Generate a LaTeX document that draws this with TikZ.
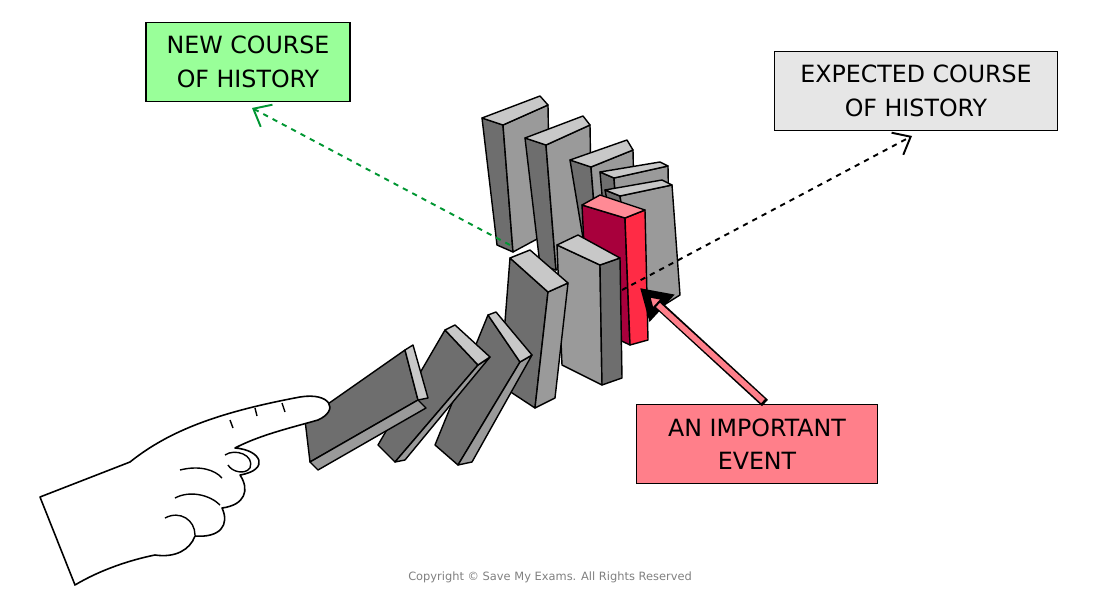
\documentclass[tikz,border=0pt]{standalone}
\usepackage{fontspec}
\setmainfont{DejaVu Sans}
\usetikzlibrary{arrows.meta}
\definecolor{dside}{HTML}{6E6E6E}
\definecolor{dfront}{HTML}{9A9A9A}
\definecolor{dtop}{HTML}{C8C8C8}
\definecolor{rdark}{HTML}{A8003C}
\definecolor{rside}{HTML}{FF2B45}
\definecolor{rtop}{HTML}{FF8A95}
\tikzset{
  face/.style={draw=black, line width=0.8pt, line join=round},
  label box/.style={draw=black, line width=0.8pt, minimum width=4.08cm, minimum height=1.58cm,
    align=center, font=\fontsize{13.5}{19}\selectfont},
  course/.style={dashed, line width=1.1pt, -{Straight Barb[length=3mm,width=5mm]}}
}
\begin{document}
\begin{tikzpicture}[x=0.02cm,y=-0.02cm]
  \useasboundingbox (0,0) rectangle (1100,595);

  % standing dominoes, back to front
  \filldraw[face, fill=dside] (482,118) -- (503,125) -- (513,252) -- (497,245) -- cycle;
  \filldraw[face, fill=dfront] (503,125) -- (548,105) -- (550,232) -- (513,252) -- cycle;
  \filldraw[face, fill=dtop] (482,118) -- (540,96) -- (548,105) -- (503,125) -- cycle;

  \filldraw[face, fill=dside] (525,138) -- (546,145) -- (556,270) -- (540,265) -- cycle;
  \filldraw[face, fill=dfront] (546,145) -- (590,125) -- (592,250) -- (556,270) -- cycle;
  \filldraw[face, fill=dtop] (525,138) -- (583,116) -- (590,125) -- (546,145) -- cycle;

  \filldraw[face, fill=dside] (570,160) -- (591,167) -- (598,255) -- (585,250) -- cycle;
  \filldraw[face, fill=dfront] (591,167) -- (633,150) -- (635,245) -- (598,255) -- cycle;
  \filldraw[face, fill=dtop] (570,160) -- (627,140) -- (633,150) -- (591,167) -- cycle;

  \filldraw[face, fill=dside] (600,172) -- (614,178) -- (622,290) -- (610,285) -- cycle;
  \filldraw[face, fill=dfront] (614,178) -- (668,166) -- (670,290) -- (622,290) -- cycle;
  \filldraw[face, fill=dtop] (600,172) -- (660,162) -- (668,166) -- (614,178) -- cycle;

  \filldraw[face, fill=dside] (605,190) -- (620,196) -- (640,320) -- (630,315) -- cycle;
  \filldraw[face, fill=dfront] (620,196) -- (672,185) -- (680,295) -- (640,320) -- cycle;
  \filldraw[face, fill=dtop] (605,190) -- (662,180) -- (672,185) -- (620,196) -- cycle;

  % the red domino
  \filldraw[face, fill=rdark] (582,205) -- (625,218) -- (630,345) -- (588,325) -- cycle;
  \filldraw[face, fill=rside] (625,218) -- (645,210) -- (648,340) -- (630,345) -- cycle;
  \filldraw[face, fill=rtop] (582,205) -- (600,195) -- (645,210) -- (625,218) -- cycle;

  % falling dominoes
  \filldraw[face, fill=dfront] (557,245) -- (600,265) -- (602,385) -- (562,365) -- cycle;
  \filldraw[face, fill=dside] (600,265) -- (620,258) -- (622,378) -- (602,385) -- cycle;
  \filldraw[face, fill=dtop] (557,245) -- (578,235) -- (620,258) -- (600,265) -- cycle;

  \filldraw[face, fill=dside] (510,258) -- (548,292) -- (535,408) -- (500,385) -- cycle;
  \filldraw[face, fill=dfront] (548,292) -- (568,283) -- (555,398) -- (535,408) -- cycle;
  \filldraw[face, fill=dtop] (510,258) -- (530,250) -- (568,283) -- (548,292) -- cycle;

  \filldraw[face, fill=dside] (488,315) -- (520,362) -- (458,465) -- (435,445) -- cycle;
  \filldraw[face, fill=dfront] (520,362) -- (532,355) -- (472,462) -- (458,465) -- cycle;
  \filldraw[face, fill=dtop] (488,315) -- (496,312) -- (532,355) -- (520,362) -- cycle;

  \filldraw[face, fill=dside] (445,330) -- (478,365) -- (395,462) -- (378,445) -- cycle;
  \filldraw[face, fill=dfront] (478,365) -- (490,357) -- (405,460) -- (395,462) -- cycle;
  \filldraw[face, fill=dtop] (445,330) -- (455,325) -- (490,357) -- (478,365) -- cycle;

  \filldraw[face, fill=dside] (305,420) -- (405,350) -- (418,400) -- (310,462) -- cycle;
  \filldraw[face, fill=dfront] (310,462) -- (418,400) -- (426,408) -- (318,470) -- cycle;
  \filldraw[face, fill=dtop] (405,350) -- (413,345) -- (428,398) -- (418,400) -- cycle;

  % hand
  \filldraw[fill=white, line width=0.9pt, line join=round]
    (40,497) -- (130,462) .. controls (170,430) and (220,412) .. (300,397)
    .. controls (330,392) and (340,410) .. (318,420)
    .. controls (290,428) and (260,435) .. (235,448)
    .. controls (262,450) and (270,470) .. (240,475)
    .. controls (250,490) and (245,505) .. (222,508)
    .. controls (230,525) and (220,538) .. (195,536)
    .. controls (190,550) and (175,558) .. (155,555)
    .. controls (130,560) and (100,570) .. (75,585) -- cycle;
  \draw[line width=0.8pt] (225,455) .. controls (235,448) and (255,455) .. (250,468)
    .. controls (245,475) and (232,472) .. (228,465);
  \draw[line width=0.8pt] (180,470) .. controls (200,465) and (215,470) .. (222,478);
  \draw[line width=0.8pt] (175,498) .. controls (190,490) and (210,495) .. (220,505);
  \draw[line width=0.8pt] (165,518) .. controls (180,510) and (195,520) .. (195,535);
  \draw[line width=0.8pt] (230,420) -- (233,428) (255,408) -- (257,416) (282,403) -- (285,412);

  % labels and arrows
  \node[label box, fill={rgb,255:red,153;green,255;blue,153}] (newc) at (248,62) {NEW COURSE\\OF HISTORY};
  \node[label box, fill={rgb,255:red,230;green,230;blue,230}, minimum width=5.66cm] (expc) at (916,91) {EXPECTED COURSE\\OF HISTORY};
  \node[label box, fill={rgb,255:red,255;green,127;blue,138}, minimum width=4.82cm] (event) at (757,444) {AN IMPORTANT\\EVENT};

  \coordinate (fork) at (510,245);
  \coordinate (newend) at (252,108);
  \coordinate (redmid) at (622,290);
  \coordinate (expend) at (912,136);
  \coordinate (ptip) at (640,288);
  \draw[course, draw={rgb,255:red,0;green,150;blue,50}] (fork) -- (newend);
  \draw[course] (redmid) -- (expend);
  \draw[draw=black, line width=0.8pt, fill={rgb,255:red,255;green,127;blue,138},
    -{Triangle[length=6mm,width=7mm,fill={rgb,255:red,255;green,127;blue,138}]}, line width=5pt]
    (765,403) -- (ptip);
  \draw[line width=3.2pt, draw={rgb,255:red,255;green,127;blue,138}] (763,401) -- (658,305);

  \node[font=\fontsize{6.5}{8}\selectfont, text=gray] (copy) at (550,577) {Copyright © Save My Exams. All Rights Reserved};
\end{tikzpicture}
\end{document}
